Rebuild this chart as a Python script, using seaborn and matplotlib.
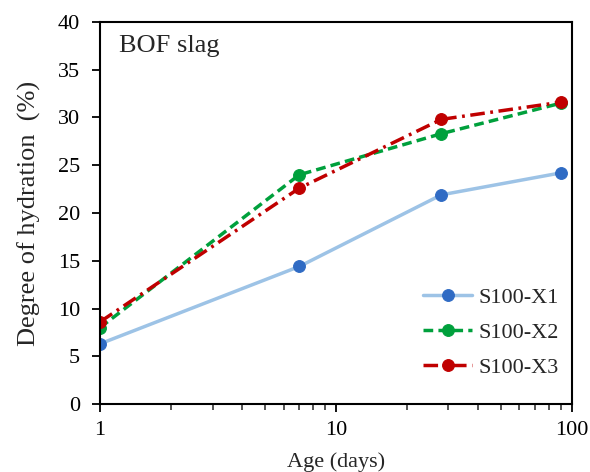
import pandas as pd
import matplotlib
matplotlib.use("Agg")
import matplotlib.pyplot as plt
import seaborn as sns

# data
age_days = [1, 7, 28, 90]
s100_x1 = [6.3, 14.4, 21.9, 24.2]
s100_x2 = [8.0, 24.0, 28.3, 31.5]
s100_x3 = [8.6, 22.6, 29.8, 31.6]
series_names = ["S100-X1", "S100-X2", "S100-X3"]

sns.set_style("white")
plt.rcParams['font.family'] = ['Liberation Serif', 'DejaVu Serif']

df = pd.DataFrame({
    "age": age_days * 3,
    "doh": s100_x1 + s100_x2 + s100_x3,
    "mix": [n for n in series_names for _ in age_days],
})

fig = plt.figure(figsize=(5.9, 4.72), dpi=100)
ax = fig.add_axes([0.1695, 0.144, 0.7995, 0.8095])

styles = {
    "S100-X1": dict(color="#9DC3E6", mfc="#2F6BC4", ls="-"),
    "S100-X2": dict(color="#00A03C", mfc="#00A03C", ls=(0, (2.8, 1.5))),
    "S100-X3": dict(color="#C00000", mfc="#C00000", ls=(0, (4.2, 1.6, 0.8, 1.6))),
}

for name in series_names:
    st = styles[name]
    sub = df[df["mix"] == name]
    sns.lineplot(data=sub, x="age", y="doh", ax=ax, color=st["color"],
                 linestyle=st["ls"], linewidth=2.5, marker="o", markersize=8.5,
                 markerfacecolor=st["mfc"], markeredgecolor=st["mfc"],
                 label=name)

ax.set_xscale("log")
ax.set_xlim(1, 100)
ax.set_ylim(0, 40)
ax.set_yticks(range(0, 41, 5))
ax.set_xticks([1, 10, 100])
ax.set_xticklabels(["1", "10", "100"])

for sp in ax.spines.values():
    sp.set_color("black")
    sp.set_linewidth(1.5)

ax.tick_params(axis="both", which="major", direction="out", length=6, width=1.3,
               labelsize=16, colors="black", bottom=True, left=True)
ax.tick_params(axis="x", which="minor", direction="out", length=4, width=1.1,
               bottom=True)
ax.tick_params(axis="y", pad=8.5)
ax.tick_params(axis="x", pad=6)

ax.set_xlabel("Age (days)", fontsize=16, labelpad=9)
ax.set_ylabel("Degree of hydration  (%)", fontsize=19, labelpad=12)

ax.text(0.04, 0.921, "BOF slag", transform=ax.transAxes, fontsize=19,
        va="baseline", ha="left")

leg = ax.legend(loc="lower right", fontsize=16, frameon=False,
                handlelength=2.2, handletextpad=0.3, labelspacing=0.65,
                borderaxespad=0, bbox_to_anchor=(0.992, 0.045))

fig.savefig("out.png", dpi=100)
